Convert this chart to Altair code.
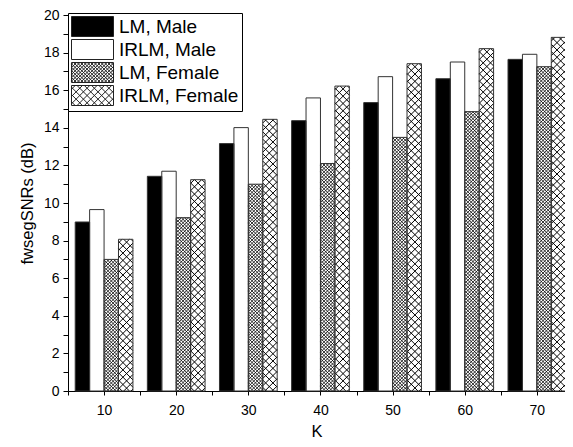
import altair as alt
import pandas as pd

# ---- data ----
K = [10, 20, 30, 40, 50, 60, 70]
series = ["LM, Male", "IRLM, Male", "LM, Female", "IRLM, Female"]
lm_male = [8.99, 11.42, 13.16, 14.38, 15.34, 16.61, 17.64]
irlm_male = [9.65, 11.69, 14.01, 15.59, 16.72, 17.50, 17.91]
lm_female = [7.00, 9.22, 11.00, 12.10, 13.49, 14.86, 17.25]
irlm_female = [8.07, 11.24, 14.45, 16.22, 17.41, 18.21, 18.81]

x_ticks = [5, 10, 15, 20, 25, 30, 35, 40, 45, 50, 55, 60, 65, 70]
y_ticks = list(range(0, 21))

rows = []
for i, (name, vals) in enumerate(zip(series, [lm_male, irlm_male, lm_female, irlm_female])):
    for k, v in zip(K, vals):
        rows.append({"K": k, "series": name, "idx": i, "value": v})
df = pd.DataFrame(rows)

# ---- layout / style ----
FONT = "Liberation Sans"
W, H = 497, 376
X_DOM = [5, 73.9]
Y_DOM = [0, 20]
SX = W / (X_DOM[1] - X_DOM[0])
SY = H / (Y_DOM[1] - Y_DOM[0])
BAR_W = 2.0
STROKE = "#333333"

xs = alt.Scale(domain=X_DOM, nice=False, zero=False)
ys = alt.Scale(domain=Y_DOM, nice=False, zero=False)
fill_scale = alt.Scale(domain=series, range=["black", "white", "white", "white"])

x_axis = alt.Axis(
    values=x_ticks, title="K", labelExpr="datum.value % 10 === 0 ? datum.label : ''",
    tickSize=4, labelOverlap=False, labelPadding=8, titlePadding=6, grid=False,
)
y_axis = alt.Axis(
    values=y_ticks, title="fwsegSNRs (dB)", labelExpr="datum.value % 2 === 0 ? datum.label : ''",
    tickSize=5, labelOverlap=False, labelPadding=4, titlePadding=8, grid=False,
)


def swatch_path(p=None):
    x0, x1, y0, y1 = -1.0, 3.2, -1.0, 1.0
    parts = [f"M{x0},{y0}H{x1}V{y1}H{x0}Z"]
    if p:
        w, h = x1 - x0, y1 - y0
        n = int((w + h) / p) + 1
        for k in range(n):
            c = (k + 0.5) * p
            if c >= w + h:
                break
            xa, xb = max(0.0, c - h), min(w, c)
            parts.append(f"M{x0+xa:.3f},{y0+c-xa:.3f}L{x0+xb:.3f},{y0+c-xb:.3f}")
            c2 = c - h
            xa, xb = max(0.0, c2), min(w, c2 + h)
            parts.append(f"M{x0+xa:.3f},{y0+xa-c2:.3f}L{x0+xb:.3f},{y0+xb-c2:.3f}")
    return "".join(parts)


shape_range = [swatch_path(), swatch_path(), swatch_path(0.34), swatch_path(0.73)]

leg = alt.Legend(
    title=None, orient="none", legendX=0, legendY=-2,
    symbolSize=400, labelFont=FONT, labelFontSize=19, labelOffset=27,
    padding=3, strokeColor="black", fillColor="white", rowPadding=-2.4,
    symbolStrokeWidth=1, symbolStrokeColor="#222222", labelColor="black",
)

base = alt.Chart(df).transform_calculate(
    x0=f"datum.K - 2*{BAR_W} + {BAR_W}*datum.idx",
    x1=f"datum.K - {BAR_W} + {BAR_W}*datum.idx",
    zero="0",
)

bars = base.mark_rect().encode(
    x=alt.X("x0:Q", scale=xs, axis=x_axis),
    x2="x1:Q",
    y=alt.Y("value:Q", scale=ys, axis=y_axis),
    y2="zero:Q",
    fill=alt.Fill("series:N", scale=fill_scale, legend=leg),
)


def hatch(direction):
    if direction == 0:
        c_expr = "(datum.k + 0.5) * datum.p"
        xa = "max(0, datum.c - datum.hp)"
        xb = "min(datum.wp, datum.c)"
        ya = "datum.c - datum.xa"
        yb = "datum.c - datum.xb"
    else:
        c_expr = "-datum.hp + (datum.k + 0.5) * datum.p"
        xa = "max(0, datum.c)"
        xb = "min(datum.wp, datum.c + datum.hp)"
        ya = "datum.xa - datum.c"
        yb = "datum.xb - datum.c"
    return (
        alt.Chart(df)
        .transform_filter("datum.idx >= 2")
        .transform_calculate(
            p="datum.idx == 2 ? 3.4 : 7.3",
            wp=f"{BAR_W * SX}",
            hp=f"datum.value * {SY}",
            x0=f"datum.K - 2*{BAR_W} + {BAR_W}*datum.idx",
        )
        .transform_calculate(k="sequence(0, ceil((datum.wp + datum.hp) / datum.p))")
        .transform_flatten(["k"])
        .transform_calculate(c=c_expr)
        .transform_calculate(xa=xa, xb=xb)
        .transform_calculate(ya=ya, yb=yb)
        .transform_filter("datum.xb > datum.xa")
        .transform_calculate(
            hx1=f"datum.x0 + datum.xa / {SX}",
            hx2=f"datum.x0 + datum.xb / {SX}",
            hy1=f"datum.ya / {SY}",
            hy2=f"datum.yb / {SY}",
            sw="datum.idx == 2 ? 0.8 : 1.0",
        )
        .mark_rule(color="black")
        .encode(
            x=alt.X("hx1:Q", scale=xs, axis=x_axis),
            x2="hx2:Q",
            y=alt.Y("hy1:Q", scale=ys, axis=y_axis),
            y2="hy2:Q",
            strokeWidth=alt.StrokeWidth("sw:Q", scale=None),
        )
    )


outlines = base.mark_rect(fill="transparent", stroke=STROKE, strokeWidth=1).encode(
    x=alt.X("x0:Q", scale=xs, axis=x_axis),
    x2="x1:Q",
    y=alt.Y("value:Q", scale=ys, axis=y_axis),
    y2="zero:Q",
)

legend_layer = (
    alt.Chart(df)
    .transform_filter("false")
    .mark_point(filled=True, opacity=1)
    .encode(
        x=alt.X("K:Q", scale=xs, axis=x_axis),
        y=alt.Y("value:Q", scale=ys, axis=y_axis),
        fill=alt.Fill("series:N", scale=fill_scale, legend=leg),
        shape=alt.Shape("series:N", scale=alt.Scale(domain=series, range=shape_range), legend=leg),
    )
)

chart = (
    alt.layer(bars, hatch(0), hatch(1), outlines, legend_layer)
    .properties(
        width=W, height=H, autosize="none",
        padding={"left": 60, "top": 7, "right": 0, "bottom": 48},
    )
    .configure_view(strokeWidth=0)
    .configure_axis(
        domainColor="black", tickColor="black", labelColor="black", titleColor="black",
        labelFont=FONT, titleFont=FONT, labelFontSize=14, titleFontSize=16.5,
        titleFontWeight="normal", domainWidth=1, tickWidth=1,
    )
)

chart.save("out.html", embed_options={"renderer": "svg", "actions": False})
